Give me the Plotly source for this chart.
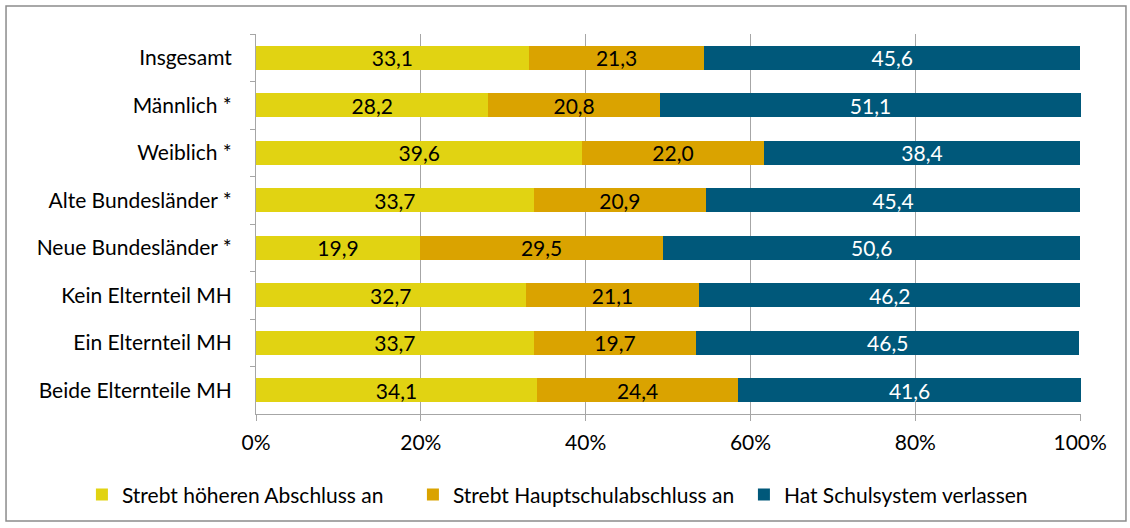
import plotly.graph_objects as go

categories = ["Insgesamt", "Männlich *", "Weiblich *", "Alte Bundesländer *",
              "Neue Bundesländer *", "Kein Elternteil MH", "Ein Elternteil MH",
              "Beide Elternteile MH"]
hoeher = [33.1, 28.2, 39.6, 33.7, 19.9, 32.7, 33.7, 34.1]
haupt = [21.3, 20.8, 22.0, 20.9, 29.5, 21.1, 19.7, 24.4]
verlassen = [45.6, 51.1, 38.4, 45.4, 50.6, 46.2, 46.5, 41.6]
series_names = ["Strebt höheren Abschluss an", "Strebt Hauptschulabschluss an",
                "Hat Schulsystem verlassen"]
x_ticks = [0, 20, 40, 60, 80, 100]

colors = ["#E1D312", "#DAA300", "#00587A"]
text_colors = ["#000000", "#000000", "#FFFFFF"]
FONT = "Lato, Calibri, sans-serif"
FS = 21

fig = go.Figure()
for name, vals, c, tc in zip(series_names, [hoeher, haupt, verlassen], colors, text_colors):
    fig.add_trace(go.Bar(
        y=categories, x=vals, name=name, orientation="h",
        marker=dict(color=c, line=dict(width=0)),
        text=[f"{v:.1f}".replace(".", ",") for v in vals],
        textposition="inside", insidetextanchor="middle", constraintext="none",
        textfont=dict(color=tc, size=FS, family=FONT),
        cliponaxis=False,
    ))

fig.update_layout(
    barmode="stack", bargap=0.49,
    width=1130, height=528,
    margin=dict(l=256, r=49, t=34, b=114),
    paper_bgcolor="white", plot_bgcolor="white",
    font=dict(family=FONT, size=FS, color="#000000"),
    legend=dict(orientation="h", x=-0.211, xanchor="left",
                y=-0.213, yanchor="middle", bgcolor="rgba(0,0,0,0)",
                font=dict(size=FS), traceorder="normal",
                entrywidth=286, entrywidthmode="pixels", itemwidth=30),
    xaxis=dict(range=[0, 100.1], tickvals=x_ticks,
               ticktext=[f"{t}%" for t in x_ticks],
               showgrid=True, gridcolor="#A6A6A6", gridwidth=1,
               showline=True, linecolor="#A6A6A6", linewidth=1,
               ticks="outside", ticklen=6, tickcolor="#A6A6A6",
               zeroline=False, ticklabelstandoff=4),
    yaxis=dict(autorange="reversed", showline=True, linecolor="#A6A6A6", linewidth=1,
               ticks="outside", ticklen=5, tickcolor="#A6A6A6", tickson="boundaries",
               showgrid=False, ticklabelstandoff=19),
    shapes=[dict(type="rect", xref="paper", yref="paper",
                 x0=-0.303, x1=1.0545, y0=-0.2816, y1=1.0737,
                 line=dict(color="#8C8C8C", width=1.5), fillcolor="rgba(0,0,0,0)",
                 layer="above")],
)

fig.write_html("out.html", config={"displayModeBar": False},
               post_script="document.body.style.margin='0';")
